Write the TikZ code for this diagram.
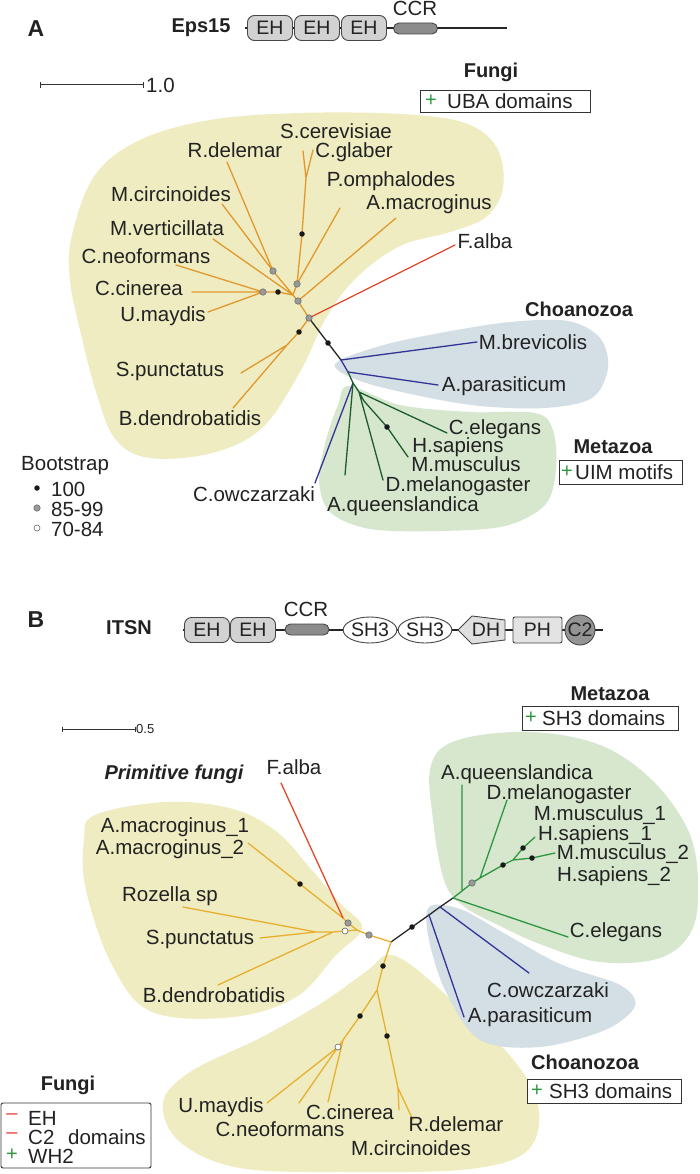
\documentclass[tikz,border=0pt]{standalone}
\usepackage{fontspec}
\setmainfont{Liberation Sans}
\usepackage{graphicx}
\usetikzlibrary{shapes.geometric}
\definecolor{txt}{RGB}{34,34,34}
\definecolor{fungiY}{RGB}{238,236,192}
\definecolor{choaB}{RGB}{212,222,229}
\definecolor{metaG}{RGB}{214,231,206}
\definecolor{orA}{RGB}{226,152,44}
\definecolor{orB}{RGB}{232,176,48}
\definecolor{brR}{RGB}{226,72,44}
\definecolor{brU}{RGB}{52,52,150}
\definecolor{grA}{RGB}{28,92,44}
\definecolor{grB}{RGB}{44,150,64}
\definecolor{plusG}{RGB}{44,150,64}
\definecolor{minR}{RGB}{232,64,64}
\definecolor{domE}{RGB}{70,70,70}
\begin{document}
\begin{tikzpicture}[x=1pt,y=-1pt,
  lbl/.style={font=\fontsize{20.5}{22}\selectfont, text=txt, inner sep=0pt},
  hd/.style={font=\fontsize{20}{22}\selectfont\bfseries, text=txt, inner sep=0pt},
  panel/.style={font=\fontsize{23}{25}\selectfont\bfseries, text=txt, inner sep=0pt},
  dom/.style={draw=domE, line width=0.9pt, fill=gray!35, rounded corners=7pt, minimum width=45pt, minimum height=25pt, inner sep=0pt, font=\fontsize{19.5}{20}\selectfont, text=txt},
  ccrbox/.style={draw=domE, line width=0.9pt, fill=black!45, rounded corners=5.5pt, minimum width=44pt, minimum height=11pt, inner sep=0pt},
  shbox/.style={ellipse, draw=domE, line width=0.9pt, fill=white, minimum width=44pt, minimum height=26pt, inner sep=0pt, font=\fontsize{19.5}{20}\selectfont, text=txt},
  phbox/.style={draw=domE, line width=0.9pt, fill=gray!22, rounded corners=2pt, minimum width=49pt, minimum height=26pt, inner sep=0pt, font=\fontsize{19.5}{20}\selectfont, text=txt},
  c2box/.style={circle, draw=domE, line width=0.9pt, fill=black!42, minimum size=30pt, inner sep=0pt, font=\fontsize{19.5}{20}\selectfont, text=txt},
  legbox/.style={draw=black!80, line width=0.9pt, fill=white},
  plus/.style={font=\fontsize{20}{22}\selectfont, text=plusG, inner sep=0pt},
  minus/.style={font=\fontsize{20}{22}\selectfont, text=minR, inner sep=0pt},
  brA/.style={draw=orA, line width=1.3pt, line cap=round, line join=round},
  brB/.style={draw=orB, line width=1.3pt, line cap=round, line join=round},
  brRed/.style={draw=brR, line width=1.3pt, line cap=round},
  brK/.style={draw=black!85, line width=1.3pt, line cap=round, line join=round},
  brBlue/.style={draw=brU, line width=1.3pt, line cap=round, line join=round},
  brGA/.style={draw=grA, line width=1.3pt, line cap=round, line join=round},
  brGB/.style={draw=grB, line width=1.3pt, line cap=round, line join=round},
  bsK/.style={circle, fill=black!90, inner sep=0pt, minimum size=5.5pt},
  bsG/.style={circle, fill=black!40, draw=black!60, line width=0.5pt, inner sep=0pt, minimum size=6.5pt},
  bsW/.style={circle, fill=white, draw=black!60, line width=0.6pt, inner sep=0pt, minimum size=6pt},
  sbar/.style={draw=black!80, line width=1pt}
]
\useasboundingbox[fill=white] (0,0) rectangle (700,1174);

%% ================= PART A =================
\node[panel] (pA) at (36,29) {A};
\node[hd] (eps) at (201,28) {Eps15};
\coordinate (eL) at (245,28);
\coordinate (eR) at (507,28);
\draw[line width=1.5pt, black!85] (eL) -- (eR);
\node[dom] (eh1) at (270,28) {EH};
\node[dom] (eh2) at (317,28) {EH};
\node[dom] (eh3) at (364,28) {EH};
\node[ccrbox] (ccrA) at (415.5,28.5) {};
\node[lbl] (ccrAl) at (415,8.5) {CCR};

% scale bar A
\coordinate (sA1) at (40,85);
\coordinate (sA2) at (143,85);
\draw[sbar] (sA1) -- (sA2);
\draw[sbar] ([yshift=3pt]sA1) -- ([yshift=-3pt]sA1);
\draw[sbar] ([yshift=3pt]sA2) -- ([yshift=-3pt]sA2);
\node[lbl, anchor=west] (sAl) at (146,85) {1.0};

% Fungi A box
\node[hd] (fungiA) at (491,72) {Fungi};
\draw[legbox] (420,90) rectangle (590,112);
\node[plus] (pUBA) at (431,101) {+};
\node[lbl, anchor=west] (uba) at (447,101) {UBA domains};

% blobs A
\fill[fungiY] plot[smooth cycle, tension=0.6] coordinates {(72,235) (95,175) (140,140) (210,120) (300,113) (400,114) (465,123) (497,148) (503,188) (486,217) (450,232) (400,246) (356,278) (326,318) (300,372) (262,428) (212,453) (150,458) (116,440) (97,395) (80,330) (70,280)};
\fill[choaB] plot[smooth cycle, tension=0.55] coordinates {(335,364) (380,346) (440,333) (510,322) (568,321) (600,338) (608,368) (592,398) (545,408) (480,406) (420,396) (360,381)};
\fill[metaG] plot[smooth cycle, tension=0.55] coordinates {(349,386) (400,405) (470,412) (535,413) (553,430) (556,470) (545,505) (505,526) (440,531) (370,529) (330,512) (319,480) (326,440) (338,405)};

% tree A coordinates
\coordinate (aRD) at (227,162);
\coordinate (aMC) at (222,204);
\coordinate (aG1) at (273,271);
\coordinate (aMV) at (213,239);
\coordinate (aCN) at (176,265);
\coordinate (aCC) at (192,292);
\coordinate (aUM) at (208,312);
\coordinate (aG2) at (263,292);
\coordinate (aB1) at (278,292);
\coordinate (aJ) at (293,295);
\coordinate (aSC) at (303,151);
\coordinate (aCG) at (313,150);
\coordinate (aJS) at (306,178);
\coordinate (aB2) at (302,234);
\coordinate (aG3) at (297,284);
\coordinate (aPO) at (340,208);
\coordinate (aG4) at (298,301);
\coordinate (aAM) at (396,218);
\coordinate (aG5) at (309,318);
\coordinate (aFA) at (455,245);
\coordinate (aB3) at (299,332);
\coordinate (aJP) at (287,345);
\coordinate (aSP) at (241,373);
\coordinate (aBD) at (233,408);
\coordinate (aB4) at (328,343);
\coordinate (aJB) at (341,360);
\coordinate (aMB) at (477,342);
\coordinate (aJB2) at (348,372);
\coordinate (aAP) at (438,385);
\coordinate (aJG1) at (353,383);
\coordinate (aCO) at (315,483);
\coordinate (aAQ) at (345,475);
\coordinate (aJG2) at (359,392);
\coordinate (aDM) at (383,480);
\coordinate (aCE) at (447,433);
\coordinate (aJG3) at (364,401);
\coordinate (aB5) at (387,427);
\coordinate (aHS) at (408,457);

\path[brA] (aRD)--(aG1) (aMC)--(aG1) (aG1)--(aJ) (aMV)--(aJ)
  (aCN)--(aG2) (aCC)--(aG2) (aUM)--(aG2) (aG2)--(aB1)--(aJ)
  (aSC)--(aJS) (aCG)--(aJS) (aJS)--(aB2)--(aG3)--(aJ) (aPO)--(aG3)
  (aJ)--(aG4)--(aG5) (aAM)--(aG4) (aG5)--(aB3)--(aJP) (aJP)--(aSP) (aJP)--(aBD);
\path[brRed] (aFA)--(aG5);
\path[brK] (aG5)--(aB4)--(aJB);
\path[brBlue] (aJB)--(aMB) (aJB)--(aJB2)--(aAP) (aJG1)--(aCO);
\path[brGA] (aJB2)--(aJG1)--(aJG2)--(aJG3) (aJG1)--(aAQ) (aJG2)--(aDM) (aJG2)--(aCE) (aJG3)--(aB5)--(aHS);

\foreach \p in {aG1,aG2,aG3,aG4,aG5} \node[bsG] (d\p) at (\p) {};
\foreach \p in {aB1,aB2,aB3,aB4,aB5} \node[bsK] (d\p) at (\p) {};

% labels A
\node[lbl] (lSC) at (336,131) {S.cerevisiae};
\node[lbl] (lCG) at (354,152) {C.glaber};
\node[lbl] (lRD) at (235,150) {R.delemar};
\node[lbl] (lPO) at (391,181) {P.omphalodes};
\node[lbl] (lMC) at (171,194) {M.circinoides};
\node[lbl] (lAM) at (429,204) {A.macroginus};
\node[lbl] (lMV) at (167,228) {M.verticillata};
\node[lbl] (lFA) at (485,241) {F.alba};
\node[lbl] (lCN) at (146,256) {C.neoformans};
\node[lbl] (lCC) at (139,288) {C.cinerea};
\node[lbl] (lUM) at (163,316) {U.maydis};
\node[lbl] (lSP) at (170,371) {S.punctatus};
\node[lbl] (lBD) at (190,418) {B.dendrobatidis};
\node[hd] (choaA) at (579,309) {Choanozoa};
\node[lbl] (lMB) at (533,342) {M.brevicolis};
\node[lbl] (lAP) at (504,386) {A.parasiticum};
\node[lbl] (lCE) at (495,429) {C.elegans};
\node[lbl] (lHS) at (458,447) {H.sapiens};
\node[lbl] (lMM) at (466,464.5) {M.musculus};
\node[lbl] (lDM) at (458,486.5) {D.melanogaster};
\node[lbl] (lAQ) at (403,506.5) {A.queenslandica};
\node[lbl] (lCO) at (254,494) {C.owczarzaki};
\node[hd] (metaA) at (613,447) {Metazoa};
\draw[legbox] (559,460) rectangle (682,484);
\node[plus] (pUIM) at (567,472) {+};
\node[lbl, anchor=west] (uim) at (575,472) {UIM motifs};

% bootstrap legend
\node[lbl, anchor=west] (bst) at (21,466) {Bootstrap};
\node[bsK] (k100) at (37,488) {};
\node[bsG] (k85) at (37,508) {};
\node[bsW] (k70) at (37,528) {};
\node[lbl, anchor=west] (t100) at (51,489) {100};
\node[lbl, anchor=west] (t85) at (51,509) {85-99};
\node[lbl, anchor=west] (t70) at (51,529) {70-84};

%% ================= PART B =================
\node[panel] (pB) at (36,620) {B};
\node[hd] (itsn) at (129,628) {ITSN};
\coordinate (iL) at (183,630);
\coordinate (iR) at (603,630);
\draw[line width=1.5pt, black!85] (iL) -- (iR);
\node[dom] (bh1) at (207,630) {EH};
\node[dom] (bh2) at (253,630) {EH};
\node[ccrbox] (ccrB) at (307,629.5) {};
\node[lbl] (ccrBl) at (306,609) {CCR};
\node[shbox] (sh1) at (370,630) {SH3};
\node[shbox] (sh2) at (425,630) {SH3};
\draw[draw=domE, line width=0.9pt, fill=gray!25, line join=round] (458,630) -- (472,616) -- (505,620) -- (505,640) -- (472,644) -- cycle;
\node[font=\fontsize{19.5}{20}\selectfont, text=txt, inner sep=0pt] (dh) at (486,630) {DH};
\node[phbox] (ph) at (537.5,630) {PH};
\node[c2box] (c2) at (580,630) {C2};

% scale bar B
\coordinate (sB1) at (62,729);
\coordinate (sB2) at (135,729);
\draw[draw=black!80, line width=0.7pt] (sB1) -- (sB2);
\draw[draw=black!80, line width=0.7pt] ([yshift=2.5pt]sB1) -- ([yshift=-2.5pt]sB1);
\draw[draw=black!80, line width=0.7pt] ([yshift=2.5pt]sB2) -- ([yshift=-2.5pt]sB2);
\node[font=\fontsize{13}{14}\selectfont, text=txt, inner sep=0pt, anchor=west] (sBl) at (136,729) {0.5};

% Metazoa B box
\node[hd] (metaB) at (610,694) {Metazoa};
\draw[legbox] (522,706) rectangle (678,730);
\node[plus] (pSH1) at (531,718) {+};
\node[lbl, anchor=west] (shd1) at (542,718) {SH3 domains};

% blobs B
\fill[fungiY] plot[smooth cycle, tension=0.6] coordinates {(95,815) (167,802) (233,809) (277,832) (310,868) (340,903) (362,928) (336,955) (296,997) (233,1017) (152,1012) (112,965) (86,890) (84,840)};
\fill[fungiY] plot[smooth cycle, tension=0.6] coordinates {(388,955) (415,968) (462,1010) (512,1058) (538,1105) (528,1150) (470,1169) (350,1172) (240,1168) (180,1142) (163,1103) (190,1072) (260,1038) (320,1004) (368,970)};
\fill[metaG] plot[smooth cycle, tension=0.6] coordinates {(431,765) (458,740) (530,732) (600,745) (652,780) (688,830) (698,880) (692,930) (660,958) (600,962) (545,946) (500,926) (462,905) (444,880) (433,820)};
\fill[choaB] plot[smooth cycle, tension=0.55] coordinates {(429,907) (460,909) (502,932) (560,964) (620,985) (635,1006) (605,1030) (540,1047) (480,1040) (446,992) (429,940)};

% tree B coordinates
\coordinate (bC) at (391,942);
\coordinate (bB1) at (412,927);
\coordinate (bJB2) at (429,915);
\coordinate (bJB) at (440,907);
\coordinate (bJG) at (453,898);
\coordinate (bCE) at (568,937);
\coordinate (bJAQ) at (462,891);
\coordinate (bAQ) at (462,785);
\coordinate (bG1) at (472,883);
\coordinate (bJDM) at (480,878);
\coordinate (bDM) at (507,800);
\coordinate (bB2) at (503,865);
\coordinate (bJH) at (513,860);
\coordinate (bB3) at (523,848);
\coordinate (bHS1) at (535,837);
\coordinate (bB4) at (532,858);
\coordinate (bMM2) at (555,853);
\coordinate (bCO) at (529,973);
\coordinate (bAP) at (464,1017);
\coordinate (bG2) at (369,935);
\coordinate (bJP) at (357,930);
\coordinate (bG3) at (348,923);
\coordinate (bJM) at (343,918);
\coordinate (bB5) at (300,884);
\coordinate (bAM2) at (248,843);
\coordinate (bFA) at (281,783);
\coordinate (bW1) at (345,931);
\coordinate (bJBD) at (333,932);
\coordinate (bJRS) at (316,932);
\coordinate (bRZ) at (183,907);
\coordinate (bSP) at (260,938);
\coordinate (bBD) at (218,985);
\coordinate (bB6) at (383,966);
\coordinate (bJD) at (377,990);
\coordinate (bB7) at (360,1016);
\coordinate (bJCC) at (343,1040);
\coordinate (bW2) at (338,1047);
\coordinate (bUM) at (267,1103);
\coordinate (bCN) at (299,1103);
\coordinate (bCC) at (328,1102);
\coordinate (bB8) at (387,1036);
\coordinate (bJR) at (398,1088);
\coordinate (bMC) at (399,1110);
\coordinate (bRD) at (413,1120);

\path[brK] (bC)--(bB1)--(bJB2)--(bJB)--(bJG);
\path[brBlue] (bJB)--(bCO) (bJB2)--(bAP);
\path[brGB] (bJG)--(bCE) (bJG)--(bJAQ)--(bG1)--(bJDM)--(bB2)--(bJH) (bJAQ)--(bAQ) (bJDM)--(bDM)
  (bJH)--(bB3)--(bHS1) (bJH)--(bB4)--(bMM2);
\path[brB] (bC)--(bG2)--(bJP) (bJP)--(bG3)--(bJM) (bJM)--(bB5)--(bAM2)
  (bJP)--(bW1)--(bJBD)--(bJRS) (bJRS)--(bRZ) (bJRS)--(bSP) (bJBD)--(bBD)
  (bC)--(bB6)--(bJD) (bJD)--(bB7)--(bJCC)--(bW2) (bW2)--(bUM) (bW2)--(bCN) (bJCC)--(bCC)
  (bJD)--(bB8)--(bJR) (bJR)--(bMC) (bJR)--(bRD);
\path[brRed] (bJM)--(bFA);

\foreach \p in {bG1,bG2,bG3} \node[bsG] (d\p) at (\p) {};
\foreach \p in {bW1,bW2} \node[bsW] (d\p) at (\p) {};
\foreach \p in {bB1,bB2,bB3,bB4,bB5,bB6,bB7,bB8} \node[bsK] (d\p) at (\p) {};

% labels B
\node[lbl] (mFA) at (294,767) {F.alba};
\node[font=\fontsize{20}{22}\selectfont\bfseries\itshape, text=txt, inner sep=0pt] (prim) at (174,774) {Primitive fungi};
\node[lbl] (mAM1) at (175,827) {A.macroginus\_1};
\node[lbl] (mAM2) at (170,849) {A.macroginus\_2};
\node[lbl] (mRZ) at (170,896) {Rozella sp};
\node[lbl] (mSP) at (200,939) {S.punctatus};
\node[lbl] (mBD) at (214,995) {B.dendrobatidis};
\node[lbl] (mAQ) at (517,774) {A.queenslandica};
\node[lbl] (mDM) at (559,794) {D.melanogaster};
\node[lbl] (mMM1) at (600,815) {M.musculus\_1};
\node[lbl] (mHS1) at (595,835) {H.sapiens\_1};
\node[lbl] (mMM2) at (623,854) {M.musculus\_2};
\node[lbl] (mHS2) at (614,876) {H.sapiens\_2};
\node[lbl] (mCE) at (616,932) {C.elegans};
\node[lbl] (mCO) at (548,990) {C.owczarzaki};
\node[lbl] (mAP) at (530,1017) {A.parasiticum};
\node[lbl] (mUM) at (221,1107) {U.maydis};
\node[lbl] (mCN) at (280,1129) {C.neoformans};
\node[lbl] (mCC) at (350,1112) {C.cinerea};
\node[lbl] (mRD) at (456,1124) {R.delemar};
\node[lbl] (mMC) at (411,1148) {M.circinoides};

% Choanozoa B box
\node[hd] (choaB) at (585,1062) {Choanozoa};
\draw[legbox] (527,1079) rectangle (681,1103);
\node[plus] (pSH2) at (537,1091) {+};
\node[lbl, anchor=west] (shd2) at (549,1091) {SH3 domains};

% Fungi B legend
\node[hd] (fungiB) at (68,1085) {Fungi};
\draw[legbox, rounded corners=2pt] (1,1103) rectangle (151,1168);
\node[minus] (m1) at (12,1117) {\textendash};
\node[minus] (m2) at (12,1136) {\textendash};
\node[plus] (p3) at (12,1155) {+};
\node[lbl, anchor=west] (lEH) at (28,1118) {EH};
\node[lbl, anchor=west] (lC2) at (28,1137) {C2};
\node[lbl, anchor=west] (ldom) at (68,1137) {domains};
\node[lbl, anchor=west] (lWH) at (28,1156) {WH2};
\end{tikzpicture}
\end{document}
